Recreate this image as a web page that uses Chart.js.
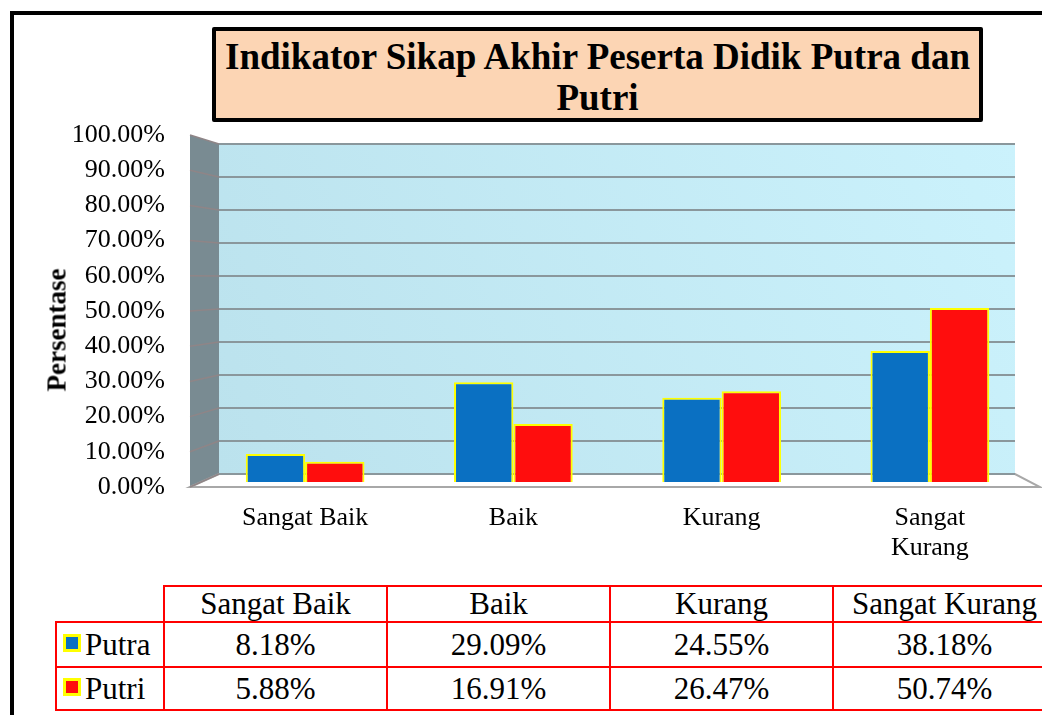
<!DOCTYPE html>
<html>
<head>
<meta charset="utf-8">
<title>Indikator Sikap Akhir Peserta Didik Putra dan Putri</title>
<script src="https://cdn.jsdelivr.net/npm/chart.js@4.4.1/dist/chart.umd.min.js"></script>
<style>
  html, body { margin: 0; padding: 0; background: #fff; overflow: hidden; }
  body { width: 1042px; height: 715px; position: relative; font-family: 'Liberation Serif', 'Times New Roman', serif; color: #000; }
  #frame { position: absolute; left: 10px; top: 11px; width: 1100px; height: 800px; border: 4px solid #000; box-sizing: border-box; }
  #wrap { position: absolute; left: 0; top: 0; width: 1042px; height: 580px; }
  #title { position: absolute; left: 212px; top: 27px; width: 771px; height: 95px; box-sizing: border-box;
    border: 4px solid #000; border-radius: 2px; background: #fcd5b4; font-weight: bold; font-size: 37px;
    line-height: 41px; text-align: center; padding-top: 5px; }
  #ytitle { position: absolute; left: 57px; top: 330px; transform: translate(-50%, -50%) rotate(-90deg);
    font-weight: bold; font-size: 27px; white-space: nowrap; }
  #tbl { position: absolute; left: 55px; top: 585px; width: 1000px; border-collapse: collapse; table-layout: fixed; font-size: 31px; }
  #tbl td { border: 2px solid #ff0000; text-align: center; padding: 0; white-space: nowrap; line-height: 34px; }
  #tbl td.corner { border-top: none; border-left: none; }
  #tbl td.rh { text-align: left; padding-left: 6px; }
  #tbl tr.head td { height: 34px; }
  #tbl tr.r0 td { height: 43px; }
  #tbl tr.r1 td { height: 41px; }
  .key { display: inline-block; width: 12px; height: 12px; border: 3px solid #ffff00; margin-right: 4px; vertical-align: 3px; }
</style>
</head>
<body>
<div id="frame"></div>
<div id="wrap"><canvas id="chart" width="1042" height="580"></canvas></div>
<div id="title"></div>
<div id="ytitle"></div>
<table id="tbl"></table>
<script>
const TITLE = 'Indikator Sikap Akhir Peserta Didik Putra dan Putri';
const Y_TITLE = 'Persentase';
const categories = ['Sangat Baik', 'Baik', 'Kurang', 'Sangat Kurang'];
const seriesNames = ['Putra', 'Putri'];
const putra = [8.18, 29.09, 24.55, 38.18];
const putri = [5.88, 16.91, 26.47, 50.74];
const yTicks = [0, 10, 20, 30, 40, 50, 60, 70, 80, 90, 100];

const COLORS = ['#0a70c2', '#ff0d0d'];
const FONT = "'Liberation Serif', 'Times New Roman', serif";

document.getElementById('title').textContent = TITLE;
document.getElementById('ytitle').textContent = Y_TITLE;

// tabel data di bawah grafik
function buildTable() {
  let html = '<colgroup><col style="width:108px">' + categories.map(() => '<col style="width:223px">').join('') + '</colgroup>';
  html += '<tr class="head"><td class="corner"></td>' + categories.map((c) => `<td>${c}</td>`).join('') + '</tr>';
  [putra, putri].forEach((vals, i) => {
    html += `<tr class="r${i}"><td class="rh"><span class="key" style="background:${COLORS[i]}"></span>${seriesNames[i]}</td>` +
      vals.map((v) => `<td>${v.toFixed(2)}%</td>`).join('') + '</tr>';
  });
  document.getElementById('tbl').innerHTML = html;
}
buildTable();

// dinding & lantai 3D ala Excel
const wall3d = {
  id: 'wall3d',
  beforeDatasetsDraw(chart) {
    const { ctx, chartArea: a, scales } = chart;
    const yw = (v) => scales.yWall.getPixelForValue(v);
    const yl = (v) => scales.yLab.getPixelForValue(v);
    const fx = a.left - 11, bx = a.left + 18, rx = a.right - 19, frx = a.right + 6;
    ctx.save();
    const g = ctx.createLinearGradient(bx, yw(0), rx, yw(100));
    g.addColorStop(0, '#bbe2ed');
    g.addColorStop(1, '#cbf2fc');
    ctx.fillStyle = g;
    ctx.fillRect(bx, yw(100), rx - bx, yw(0) - yw(100));
    // dinding kiri
    ctx.fillStyle = '#798b92';
    ctx.beginPath();
    ctx.moveTo(fx, yl(100)); ctx.lineTo(bx, yw(100)); ctx.lineTo(bx, yw(0)); ctx.lineTo(fx, yl(0));
    ctx.closePath(); ctx.fill();
    // lantai
    ctx.fillStyle = '#ffffff';
    ctx.strokeStyle = '#a8a8a8';
    ctx.lineWidth = 2;
    ctx.beginPath();
    ctx.moveTo(fx, yl(0)); ctx.lineTo(bx, yw(0)); ctx.lineTo(rx, yw(0)); ctx.lineTo(frx, yl(0));
    ctx.closePath(); ctx.fill(); ctx.stroke();
    // garis grid
    yTicks.forEach((v) => {
      ctx.strokeStyle = '#8f8587';
      ctx.lineWidth = 1.5;
      ctx.beginPath(); ctx.moveTo(fx, yl(v)); ctx.lineTo(bx, yw(v)); ctx.stroke();
      ctx.strokeStyle = '#8a979c';
      ctx.lineWidth = 2;
      ctx.beginPath(); ctx.moveTo(bx, yw(v)); ctx.lineTo(rx, yw(v)); ctx.stroke();
    });
    ctx.restore();
  },
};

new Chart(document.getElementById('chart'), {
  type: 'bar',
  data: {
    labels: categories,
    datasets: [
      { label: seriesNames[0], data: putra, backgroundColor: COLORS[0], borderColor: '#ffff00', borderWidth: 2 },
      { label: seriesNames[1], data: putri, backgroundColor: COLORS[1], borderColor: '#ffff00', borderWidth: 2 },
    ],
  },
  options: {
    responsive: false,
    animation: false,
    layout: { padding: { top: 135, right: 8, bottom: 0, left: 0 } },
    plugins: { legend: { display: false }, tooltip: { enabled: false } },
    datasets: { bar: { categoryPercentage: 0.57, barPercentage: 1.0 } },
    scales: {
      x: {
        grid: { display: false, drawTicks: false },
        border: { display: false },
        ticks: {
          color: '#000', padding: 17, maxRotation: 0, autoSkip: false,
          font: { family: FONT, size: 26, lineHeight: 1.12 },
          callback: (v) => (categories[v].length > 11 ? categories[v].split(' ') : categories[v]),
        },
        afterFit: (s) => { s.height = 93; },
      },
      y: { display: false, min: -1.46, max: 101.17 },
      yWall: { display: false, min: -3.94, max: 102.73 },
      yLab: {
        position: 'left', min: 0, max: 100,
        grid: { display: false, drawTicks: false },
        border: { display: false },
        afterBuildTicks: (s) => { s.ticks = yTicks.map((v) => ({ value: v })); },
        afterFit: (s) => { s.width = 201; },
        ticks: {
          color: '#000', padding: 36,
          font: { family: FONT, size: 26 },
          callback: (v) => v.toFixed(2) + '%',
        },
      },
    },
  },
  plugins: [wall3d],
});
</script>
</body>
</html>
